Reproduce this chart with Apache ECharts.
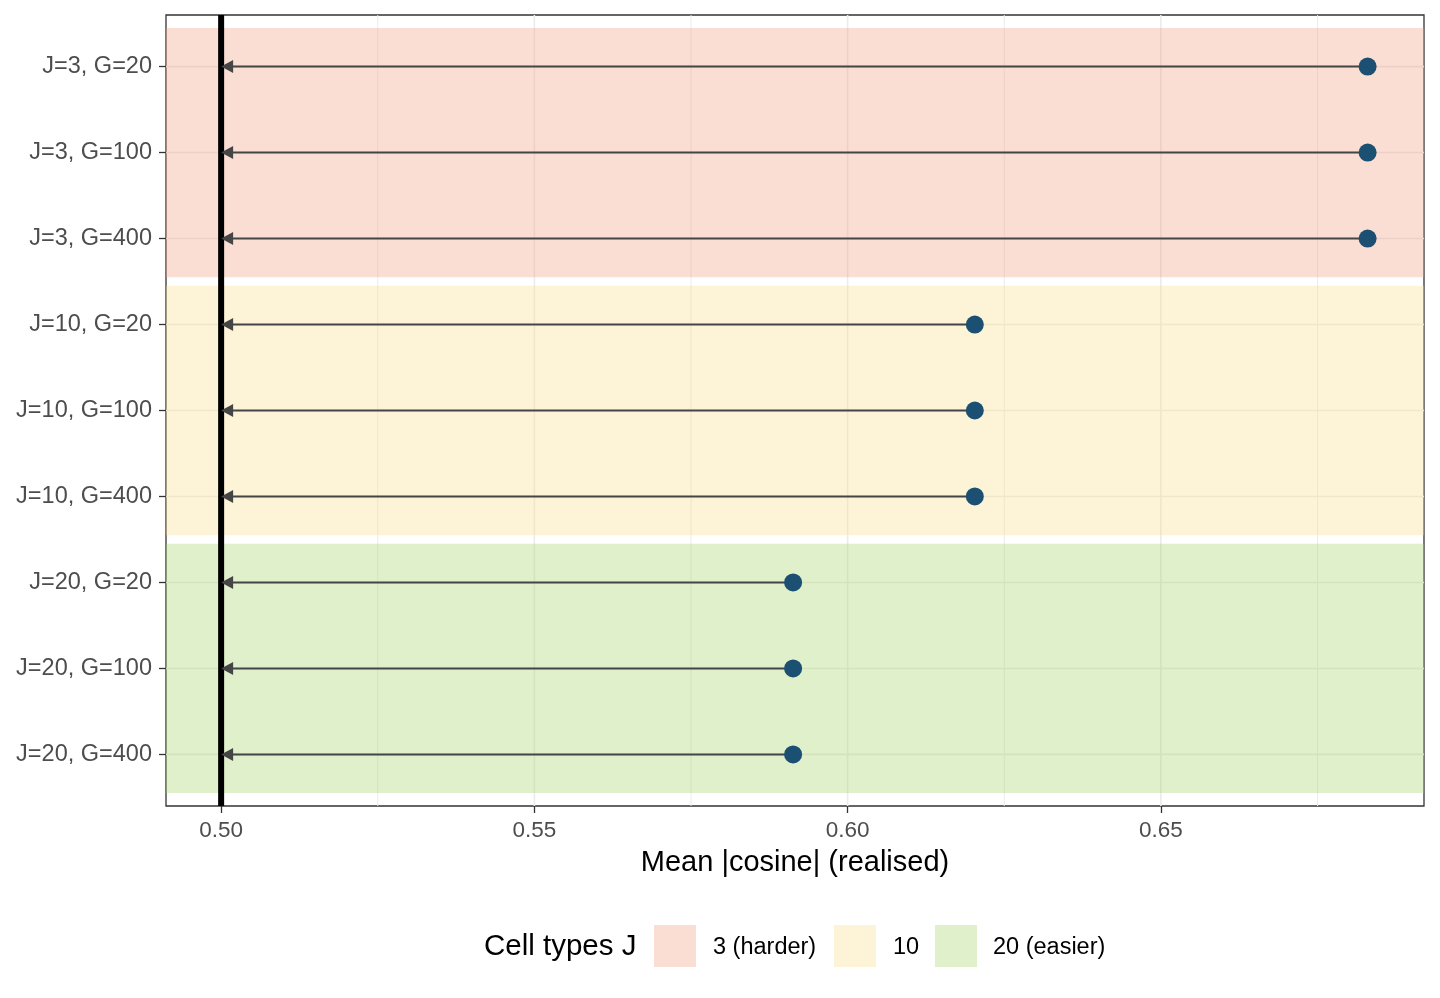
<!DOCTYPE html>
<html>
<head>
<meta charset="utf-8">
<script src="https://cdn.jsdelivr.net/npm/echarts@6/dist/echarts.min.js"></script>
<style>
html,body{margin:0;padding:0;background:#fff;}
#chart{width:1440px;height:998px;}
</style>
</head>
<body>
<div id="chart"></div>
<script>
// ---- data ----
const categories = ['J=3, G=20','J=3, G=100','J=3, G=400','J=10, G=20','J=10, G=100','J=10, G=400','J=20, G=20','J=20, G=100','J=20, G=400'];
const meanCosine = [0.683, 0.683, 0.683, 0.6203, 0.6203, 0.6203, 0.5913, 0.5913, 0.5913];
const groupOfRow = [0, 0, 0, 1, 1, 1, 2, 2, 2];
const groupNames = ['3 (harder)', '10', '20 (easier)'];
const baseline = 0.5;
const xTicks = [0.50, 0.55, 0.60, 0.65];
const xMinorTicks = [0.525, 0.575, 0.625, 0.675];
const xRange = [0.4912, 0.692];
const legendTitle = 'Cell types J';
const xTitle = 'Mean |cosine| (realised)';

// ---- styles ----
const bandColors = ['rgba(241,161,129,0.35)', 'rgba(249,221,138,0.35)', 'rgba(164,212,106,0.35)'];
const FONT = 'Liberation Sans, Arial, sans-serif';
const rowIdx = categories.map((c, i) => i + 1);

const chart = echarts.init(document.getElementById('chart'));

const gridLineData = xTicks.map(v => [v, 0]).concat(xMinorTicks.map(v => [v, 1]));

const option = {
  animation: false,
  backgroundColor: '#fff',
  grid: { left: 166, right: 16, top: 15, bottom: 192, show: true, borderColor: '#333', borderWidth: 1.3, backgroundColor: 'transparent' },
  xAxis: {
    type: 'value', min: xRange[0], max: xRange[1],
    name: xTitle, nameLocation: 'middle', nameGap: 42,
    nameTextStyle: { fontFamily: FONT, fontSize: 29, color: '#000' },
    axisLine: { show: false },
    splitLine: { show: false },
    axisTick: { show: true, customValues: xTicks, length: 7, lineStyle: { color: '#333', width: 1.3 } },
    axisLabel: { customValues: xTicks, formatter: v => v.toFixed(2), fontFamily: FONT, fontSize: 22.5, color: '#4d4d4d', margin: 13 }
  },
  yAxis: {
    type: 'value', min: 0.4, max: 9.6, inverse: true,
    axisLine: { show: false },
    splitLine: { show: false },
    axisTick: { show: true, customValues: rowIdx, length: 7, lineStyle: { color: '#333', width: 1.3 } },
    axisLabel: { customValues: rowIdx, formatter: v => (Number.isInteger(v) && categories[v - 1]) ? categories[v - 1] : '', fontFamily: FONT, fontSize: 23.5, color: '#4d4d4d', margin: 14 }
  },
  series: [
    { // vertical grid lines
      type: 'custom', z: 1, silent: true, clip: true,
      data: gridLineData,
      renderItem: (params, api) => {
        const cs = params.coordSys;
        const x = api.coord([api.value(0), 1])[0];
        const minor = api.value(1) === 1;
        return { type: 'line', shape: { x1: x, y1: cs.y, x2: x, y2: cs.y + cs.height },
          style: { stroke: '#ebebeb', lineWidth: minor ? 1 : 1.6 } };
      }
    },
    { // horizontal grid lines
      type: 'custom', z: 1, silent: true, clip: true,
      data: rowIdx.map(r => [xRange[0], r]),
      renderItem: (params, api) => {
        const cs = params.coordSys;
        const y = api.coord([xRange[0], api.value(1)])[1];
        return { type: 'line', shape: { x1: cs.x, y1: y, x2: cs.x + cs.width, y2: y },
          style: { stroke: '#ebebeb', lineWidth: 1.6 } };
      }
    },
    { // group bands
      type: 'custom', z: 2, silent: true, clip: true,
      data: groupNames.map((g, gi) => [gi, gi]),
      renderItem: (params, api) => {
        const gi = params.dataIndex;
        const rows = rowIdx.filter((r, i) => groupOfRow[i] === gi);
        const top = api.coord([xRange[0], Math.min(...rows) - 0.45]);
        const bot = api.coord([xRange[1], Math.max(...rows) + 0.45]);
        return { type: 'rect', shape: { x: top[0], y: top[1], width: bot[0] - top[0], height: bot[1] - top[1] },
          style: { fill: bandColors[gi] } };
      }
    },
    { // baseline
      type: 'custom', z: 3, silent: true, clip: true,
      data: [[baseline, 1]],
      renderItem: (params, api) => {
        const cs = params.coordSys;
        const x = api.coord([api.value(0), 1])[0];
        return { type: 'line', shape: { x1: x, y1: cs.y, x2: x, y2: cs.y + cs.height },
          style: { stroke: '#000', lineWidth: 6 } };
      }
    },
    { // arrows
      type: 'custom', z: 4, silent: true, clip: true,
      data: meanCosine.map((v, i) => [v, i + 1]),
      renderItem: (params, api) => {
        const s = api.coord([api.value(0), api.value(1)]);
        const t = api.coord([baseline, api.value(1)]);
        const head = 12, half = 6.5;
        return { type: 'group', children: [
          { type: 'line', shape: { x1: s[0], y1: s[1], x2: t[0] + head - 1, y2: t[1] }, style: { stroke: '#454545', lineWidth: 2 } },
          { type: 'polygon', shape: { points: [[t[0], t[1]], [t[0] + head, t[1] - half], [t[0] + head, t[1] + half]] }, style: { fill: '#454545' } }
        ] };
      }
    },
    { // points
      type: 'scatter', z: 5,
      data: meanCosine.map((v, i) => [v, i + 1]),
      symbol: 'circle', symbolSize: 18,
      itemStyle: { color: '#1b5072', opacity: 1 }
    }
  ],
  graphic: [
    { type: 'text', left: 484, top: 932, style: { text: legendTitle, fontFamily: FONT, fontSize: 29.5, fill: '#000' } },
    { type: 'rect', left: 654, top: 925, shape: { width: 42, height: 42 }, style: { fill: bandColors[0] } },
    { type: 'text', left: 713, top: 936, style: { text: groupNames[0], fontFamily: FONT, fontSize: 23.5, fill: '#000' } },
    { type: 'rect', left: 834, top: 925, shape: { width: 42, height: 42 }, style: { fill: bandColors[1] } },
    { type: 'text', left: 893, top: 936, style: { text: groupNames[1], fontFamily: FONT, fontSize: 23.5, fill: '#000' } },
    { type: 'rect', left: 935, top: 925, shape: { width: 42, height: 42 }, style: { fill: bandColors[2] } },
    { type: 'text', left: 993, top: 936, style: { text: groupNames[2], fontFamily: FONT, fontSize: 23.5, fill: '#000' } }
  ]
};
chart.setOption(option);
</script>
</body>
</html>
